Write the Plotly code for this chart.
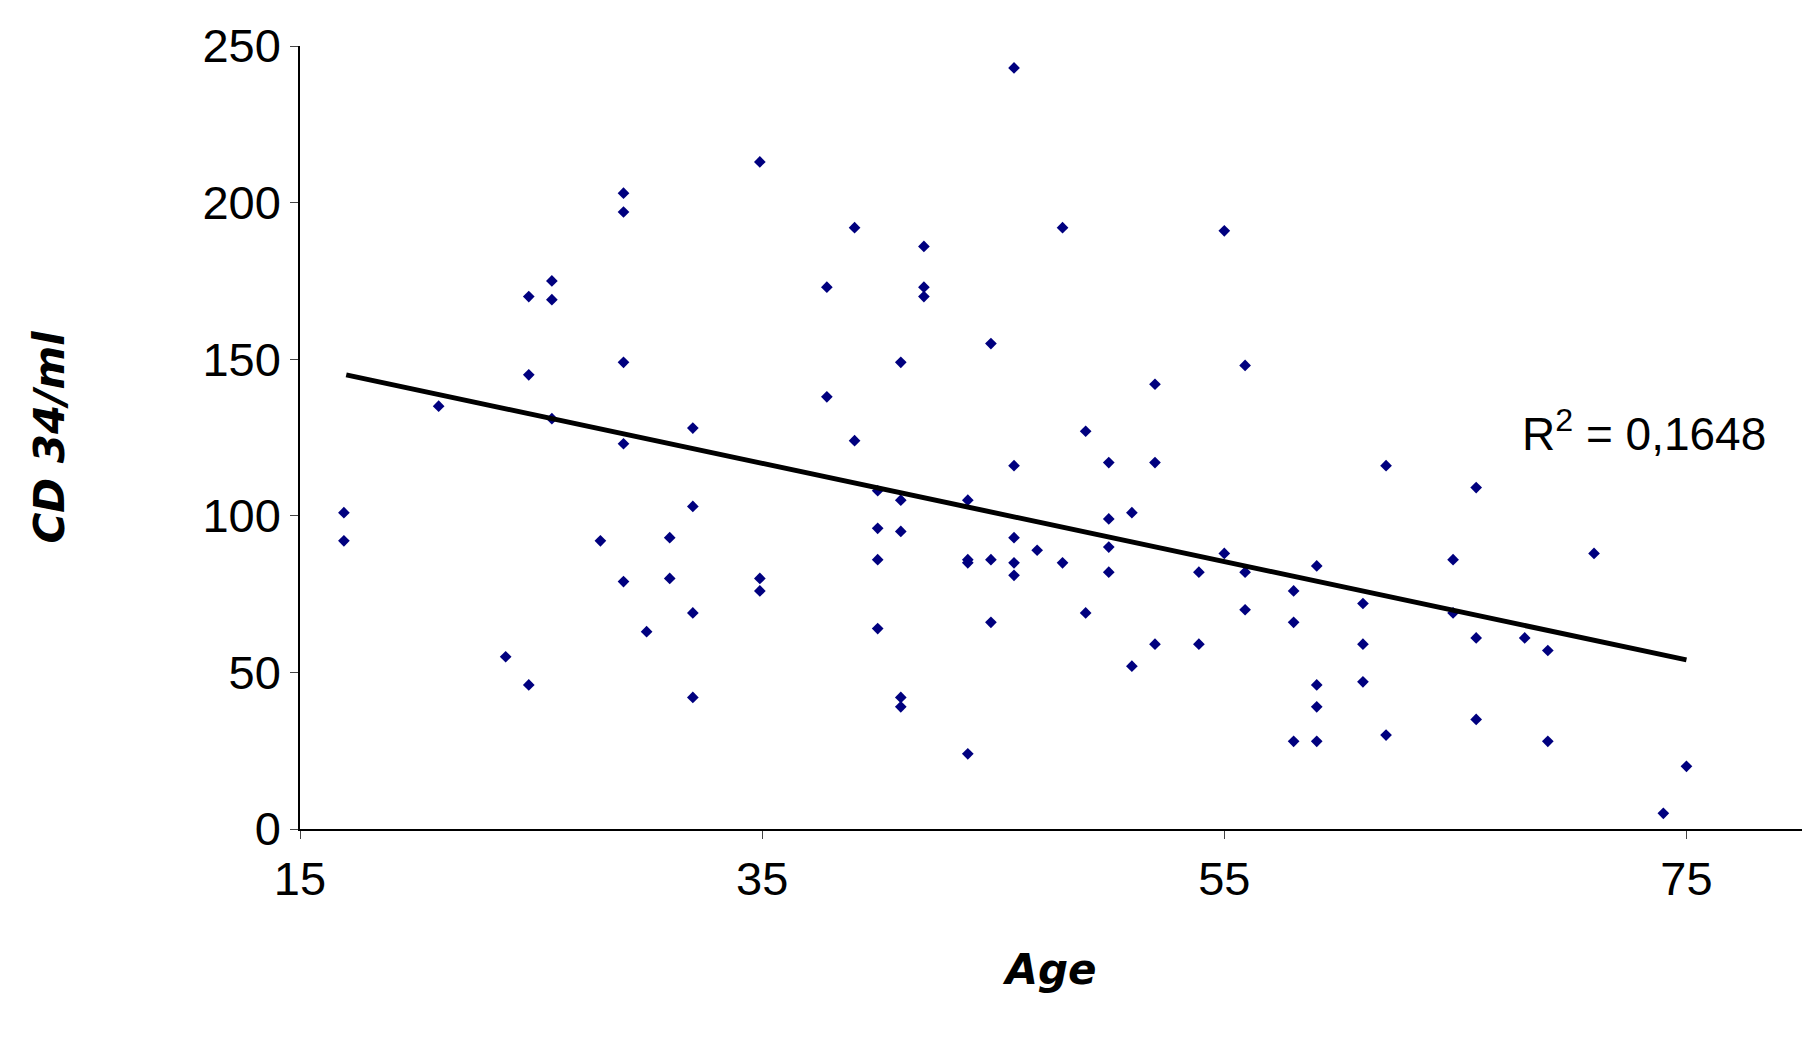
import plotly.graph_objects as go

age = [16.9, 16.9, 21, 23.9, 24.9, 24.9, 24.9, 25.9, 25.9, 25.9, 28, 29, 29, 29, 29, 29, 30, 31, 31,
       32, 32, 32, 32, 34.9, 34.9, 34.9, 37.8, 37.8, 39, 39, 40, 40, 40, 40, 41, 41, 41, 41, 41,
       42, 42, 42, 43.9, 43.9, 43.9, 43.9, 44.9, 44.9, 44.9, 45.9, 45.9, 45.9, 45.9, 45.9, 46.9,
       48, 48, 49, 49, 50, 50, 50, 50, 51, 51, 52, 52, 52, 53.9, 53.9, 55, 55, 55.9, 55.9, 55.9,
       58, 58, 58, 59, 59, 59, 59, 61, 61, 61, 62, 62, 64.9, 64.9, 65.9, 65.9, 65.9, 68, 69, 69,
       71, 74, 75]
cd34 = [101, 92, 135, 55, 170, 145, 46, 175, 169, 131, 92, 203, 197, 149, 123, 79, 63, 93, 80,
        128, 103, 69, 42, 213, 80, 76, 173, 138, 192, 124, 108, 96, 86, 64, 149, 105, 95, 42, 39,
        186, 173, 170, 105, 86, 85, 24, 155, 86, 66, 243, 116, 93, 85, 81, 89,
        192, 85, 127, 69, 117, 99, 90, 82, 101, 52, 142, 117, 59, 82, 59, 191, 88, 148, 82, 70,
        76, 66, 28, 84, 46, 39, 28, 72, 59, 47, 116, 30, 86, 69, 109, 61, 35, 61, 57, 28,
        88, 5, 20]
trend_x = [17, 75]
trend_y = [145, 54]

fig = go.Figure()
fig.add_trace(go.Scatter(x=age, y=cd34, mode="markers",
                         marker=dict(symbol="diamond", size=9, color="#00007f")))
fig.add_trace(go.Scatter(x=trend_x, y=trend_y, mode="lines",
                         line=dict(color="black", width=5)))
fig.add_annotation(x=67.8, y=127, text="R<sup>2</sup> = 0,1648", showarrow=False,
                   xanchor="left", font=dict(size=46, color="black"))

fig.update_layout(
    width=1816, height=1039, showlegend=False,
    plot_bgcolor="white", paper_bgcolor="white",
    margin=dict(l=292, r=22, t=38, b=218),
    font=dict(family="Liberation Sans, Arial", size=47, color="black"),
)
fig.update_xaxes(range=[15, 80], tickvals=[15, 35, 55, 75], showline=True, linecolor="black",
                 linewidth=1.5, ticks="outside", ticklen=8, showgrid=False, zeroline=False,
                 title=dict(text="<b><i>Age</i></b>", font=dict(family="DejaVu Sans", size=42),
                            standoff=50))
fig.update_yaxes(range=[0, 250], dtick=50, showline=True, linecolor="black",
                 linewidth=1.5, ticks="outside", ticklen=8, showgrid=False, zeroline=False,
                 title=dict(text="<b><i>CD 34/ml</i></b>", font=dict(family="DejaVu Sans", size=42),
                            standoff=125))
fig.write_html("out.html")
